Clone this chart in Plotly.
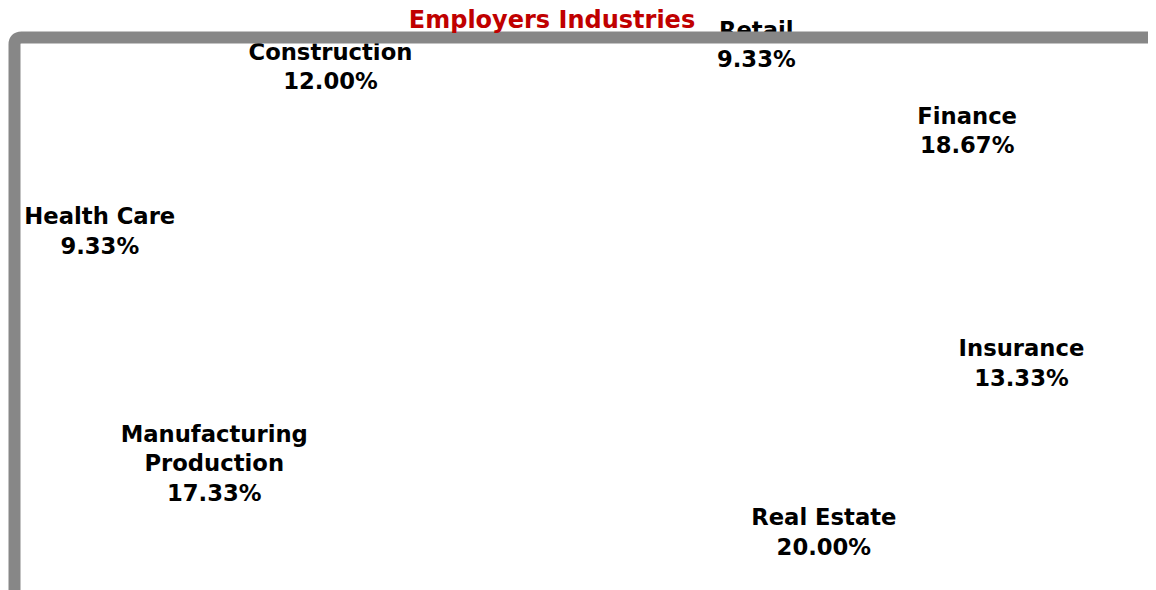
import numpy as np
import plotly.graph_objects as go

# ---- data ----
industries = ["Retail", "Finance", "Insurance", "Real Estate",
              "Manufacturing<br>Production", "Health Care", "Construction"]
shares = [9.33, 18.67, 13.33, 20.00, 17.33, 9.33, 12.00]
title_text = "Employers Industries"

# ---- styling / geometry (page body has an 8px margin) ----
W, H = 1148, 582
START_DEG = -18.0            # rotation of first slice (clockwise from 12 o'clock)
CX_PX, CY_PX = 754, 286      # pie centre in figure pixels
RXR_PX, RYR_PX = 271, 247    # label radii, right-hand labels
RXL_PX, RYL_PX = 677, 292    # label radii, left-hand labels
SLICE_PX = 200               # (invisible) slice radius
FONT = "DejaVu Sans"

vals = np.array(shares, dtype=float)
frac = vals / vals.sum()
edges = np.concatenate([[0.0], np.cumsum(frac)]) * 360.0 + START_DEG
mids = (edges[:-1] + edges[1:]) / 2.0

fig = go.Figure()

# slices (white on white, as in the reference)
for i, name in enumerate(industries):
    a = np.radians(np.linspace(edges[i], edges[i + 1], 60))
    xs = np.concatenate([[0], SLICE_PX * np.sin(a), [0]])
    ys = np.concatenate([[0], SLICE_PX * np.cos(a), [0]])
    fig.add_trace(go.Scatter(x=xs, y=ys, mode="lines", fill="toself",
                             fillcolor="white", line=dict(color="white", width=1),
                             hoverinfo="skip", showlegend=False))

# data labels placed along each slice's mid-angle
m = np.radians(mids)
s, c = np.sin(m), np.cos(m)
left = s < -0.3
lx = s * np.where(left, RXL_PX, RXR_PX)
ly = c * np.where(left, RYL_PX, RYR_PX)
labels = [f"<b>{n}</b><br><b>{p:.2f}%</b>" for n, p in zip(industries, frac * 100)]
fig.add_trace(go.Scatter(x=lx, y=ly, mode="text", text=labels,
                         textposition="middle center",
                         textfont=dict(family=FONT, size=22.7, color="black"),
                         hoverinfo="skip", showlegend=False))

fig.update_xaxes(visible=False, range=[-CX_PX, W - CX_PX], fixedrange=True)
fig.update_yaxes(visible=False, range=[-(H - CY_PX), CY_PX], fixedrange=True)

# rounded gray frame (cropped on right/bottom), drawn above texts
bx0, by0 = 6.5 / W, 1 - 29.5 / H
bx1, by1 = 1.05, -0.05
rr_x, rr_y = 7 / W, 7 / H
path = (f"M {bx0},{by1} L {bx0},{by0 - rr_y} Q {bx0},{by0} {bx0 + rr_x},{by0} "
        f"L {bx1},{by0} L {bx1},{by1} Z")
fig.add_shape(type="path", path=path, xref="paper", yref="paper",
              line=dict(color="#878787", width=12), fillcolor="rgba(0,0,0,0)",
              layer="above")

fig.update_layout(
    width=W, height=H,
    margin=dict(l=0, r=0, t=0, b=0),
    paper_bgcolor="white", plot_bgcolor="white",
    showlegend=False,
    title=dict(text=f"<b>{title_text}</b>", x=544 / W, xanchor="center",
               y=1 - 12 / H, yanchor="middle", yref="paper",
               font=dict(family=FONT, size=24, color="#C00000")),
)

fig.write_html("out.html")
